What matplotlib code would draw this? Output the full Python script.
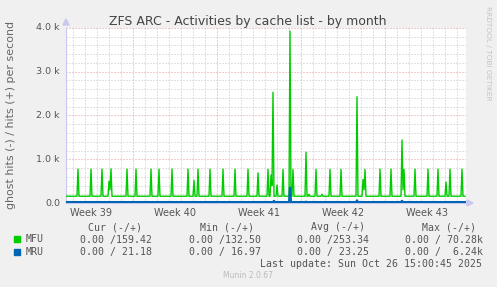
import numpy as np
import matplotlib
matplotlib.use("Agg")
import matplotlib.pyplot as plt

W, H = 497, 287

# ---- data (days since Mon of week 39; 2-hour samples) ----
t_start, t_end = 1.4167, 34.75
mfu_base = 155.0
mfu_spike_days = [2.442, 3.525, 4.442, 5.025, 5.108, 5.192, 6.525, 7.275, 8.525, 9.192,
                  10.225, 11.558, 12.108, 12.442, 13.442, 14.525, 15.525, 16.608, 17.442,
                  18.275, 18.525, 18.608, 18.692, 19.025, 19.525, 20.083, 20.358, 21.442,
                  21.667, 22.225, 22.775, 23.392, 24.333, 25.642, 26.142, 26.225, 26.308,
                  27.608, 28.525, 29.442, 29.525, 29.608, 30.525, 31.608, 32.442, 33.058,
                  33.442, 34.392]
mfu_spike_vals = [775, 775, 775, 500, 300, 780, 775, 775, 775, 775,
                  775, 775, 520, 775, 775, 775, 775, 775, 690,
                  770, 640, 400, 2530, 410, 770, 3930, 770, 1160,
                  200, 770, 200, 770, 770, 2430, 540, 300, 770,
                  775, 775, 1440, 300, 770, 775, 775, 775, 480,
                  775, 775]
mru_base = 21.0
mru_spike_days = [18.75, 20.083, 21.45, 25.67, 29.42]
mru_spike_vals = [50, 350, 30, 60, 50]

week_labels = ["Week 39", "Week 40", "Week 41", "Week 42", "Week 43"]
week_centers = [3.5, 10.5, 17.5, 24.5, 31.5]
ytick_vals = [0, 1000, 2000, 3000, 4000]
ytick_labels = ["0.0", "1.0 k", "2.0 k", "3.0 k", "4.0 k"]

legend_names = ["MFU", "MRU"]
legend_colors = ["#00cc00", "#0066b3"]
legend_cur = ["0.00 /159.42", "0.00 / 21.18"]
legend_min = ["0.00 /132.50", "0.00 / 16.97"]
legend_avg = ["0.00 /253.34", "0.00 / 23.25"]
legend_max = ["0.00 / 70.28k", "0.00 /  6.24k"]

# ---- build series ----
t = np.arange(t_start, t_end + 1e-9, 1 / 12)
mfu = np.full_like(t, mfu_base)
for d, v in zip(mfu_spike_days, mfu_spike_vals):
    mfu[int(round((d - t_start) * 12))] = v
mru = np.full_like(t, mru_base)
for d, v in zip(mru_spike_days, mru_spike_vals):
    mru[int(round((d - t_start) * 12))] = v

fig = plt.figure(figsize=(W / 100, H / 100), dpi=100, facecolor="#f0f0f0")
ax = fig.add_axes([66 / W, 1 - 203 / H, 400 / W, 175 / H])
ax.set_facecolor("white")
ax.set_xlim(t_start, t_end)
ax.set_ylim(0, 4000)

minor_c = "#c4c4c4"
major_c = "#e39a9a"
dot = (0, (1, 2))
glw = 0.72
for y in np.arange(200, 4001, 200):
    if y % 1000 == 0:
        continue
    ax.axhline(y, color=minor_c, lw=glw, ls=dot, zorder=1)
for d in range(2, 35):
    if d % 7 == 0:
        continue
    ax.axvline(d, color=minor_c, lw=glw, ls=dot, zorder=1)
for y in [1000, 2000, 3000, 4000]:
    ax.axhline(y, color=major_c, lw=glw, ls=dot, zorder=1.5)
for d in [7, 14, 21, 28]:
    ax.axvline(d, color=major_c, lw=glw, ls=dot, zorder=1.5)

ax.plot(t, mfu, color="#00cc00", lw=1.0, zorder=3)
ax.plot(t, mru, color="#0066b3", lw=1.6, zorder=4)

for s in ["top", "right"]:
    ax.spines[s].set_visible(False)
ax.spines["left"].set_color("#c8c8f0")
ax.spines["bottom"].set_color("#c8c8f0")
ax.set_xticks([])
ax.set_yticks([])

# axis arrows
fig.patches.append(plt.Polygon([[63 / W, 1 - 25 / H], [69 / W, 1 - 25 / H], [66 / W, 1 - 19 / H]],
                               closed=True, transform=fig.transFigure, color="#c8c8f0"))
fig.patches.append(plt.Polygon([[467 / W, 1 - 200 / H], [467 / W, 1 - 206 / H], [473 / W, 1 - 203 / H]],
                               closed=True, transform=fig.transFigure, color="#c8c8f0"))

def ft(x, y, s, **kw):
    fig.text(x / W, 1 - y / H, s, **kw)

tc = "#555555"
ft(248, 25, "ZFS ARC - Activities by cache list - by month", ha="center", va="baseline",
   fontsize=9, color="#444444", family="DejaVu Sans")

for v, lab in zip(ytick_vals, ytick_labels):
    ypx = 203 - v / 4000 * 175
    ft(60, ypx, lab, ha="right", va="center", fontsize=6.8, color=tc)

for c, lab in zip(week_centers, week_labels):
    xpx = 66 + (c - t_start) * 12
    ft(xpx, 216, lab, ha="center", va="baseline", fontsize=7, color=tc)

ft(11, 115, "ghost hits (-) / hits (+) per second", rotation=90, ha="center", va="center",
   fontsize=7.9, color="#666666")
ft(488, 53, "RRDTOOL / TOBI OETIKER", rotation=270, ha="center", va="center",
   fontsize=5.3, color="#c4c4c4")

mono = dict(family="DejaVu Sans Mono", fontsize=7.1, color=tc, va="baseline")
for xr, h in zip([142, 254, 365, 476], ["Cur (-/+)", "Min (-/+)", "Avg (-/+)", "Max (-/+)"]):
    ft(xr, 230.5, h, ha="right", **mono)
rows_y = [242.5, 255]
for i in range(2):
    y = rows_y[i]
    fig.patches.append(plt.Rectangle((14 / W, 1 - (y - 0.5) / H), 6 / W, 6 / H,
                                     transform=fig.transFigure, color=legend_colors[i]))
    ft(26, y, legend_names[i], ha="left", **mono)
    ft(152, y, legend_cur[i], ha="right", **mono)
    ft(261, y, legend_min[i], ha="right", **mono)
    ft(369, y, legend_avg[i], ha="right", **mono)
    ft(483, y, legend_max[i], ha="right", **mono)

ft(482, 267, "Last update: Sun Oct 26 15:00:45 2025", ha="right", **mono)
ft(248, 278.5, "Munin 2.0.67", ha="center", va="baseline", fontsize=5.5, color="#bbbbbb")

fig.savefig("out.png", dpi=100, facecolor=fig.get_facecolor())
